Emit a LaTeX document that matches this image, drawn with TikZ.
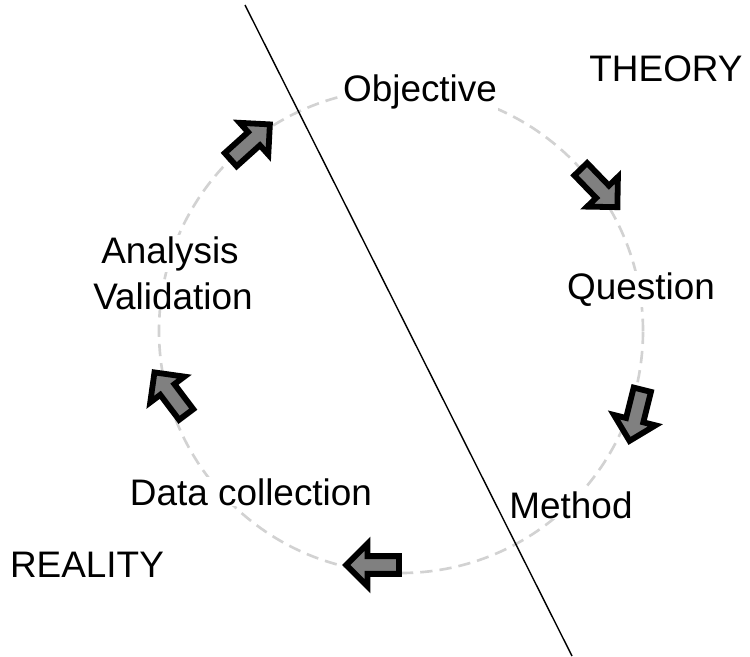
\documentclass[tikz,border=0pt]{standalone}
\usepackage{fontspec}
\setmainfont{Liberation Sans}
\usetikzlibrary{shapes.arrows}

\begin{document}
\begin{tikzpicture}[
  word/.style={fill=white, inner sep=0.5pt, anchor=base, font=\fontsize{21}{25}\selectfont},
  flow/.style={single arrow, draw=black, fill=gray, line width=3.3pt,
    minimum height=30pt, minimum width=19pt, inner sep=3.4pt}]
\useasboundingbox (0,0) rectangle (15,13.12);

% dashed cycle
\draw [gray!35, line width=1.5pt, dash pattern=on 7pt off 4pt] (8.02,6.50) circle (4.84);

% dividing line
\coordinate (top) at (4.90,13.02);
\coordinate (bottom) at (11.44,0);
\draw [line width=0.8pt] (top) -- (bottom);

% side labels
\node [word] (theory) at (13.32,11.50){THEORY};
\node [word] (reality) at (1.74,1.58){REALITY};

% steps
\node [word] (obj) at (8.40,11.08){Objective};
\node [word] (que) at (12.82,7.14){Question};
\node [word] (met) at (11.42,2.76){Method};
\node [word] (dat) at (5.02,3.02){Data collection};
\node [word] (ana) at (3.40,7.86){Analysis};
\node [word] (val) at (3.46,6.94){Validation};

% block arrows
\node [flow, rotate=-46] (a1) at (11.92,9.42){};
\node [flow, rotate=-104] (a2) at (12.74,4.90){};
\node [flow, rotate=180] (a3) at (7.54,1.82){};
\node [flow, rotate=127] (a4) at (3.46,5.18){};
\node [flow, rotate=42] (a5) at (4.94,10.22){};
\end{tikzpicture}
\end{document}
